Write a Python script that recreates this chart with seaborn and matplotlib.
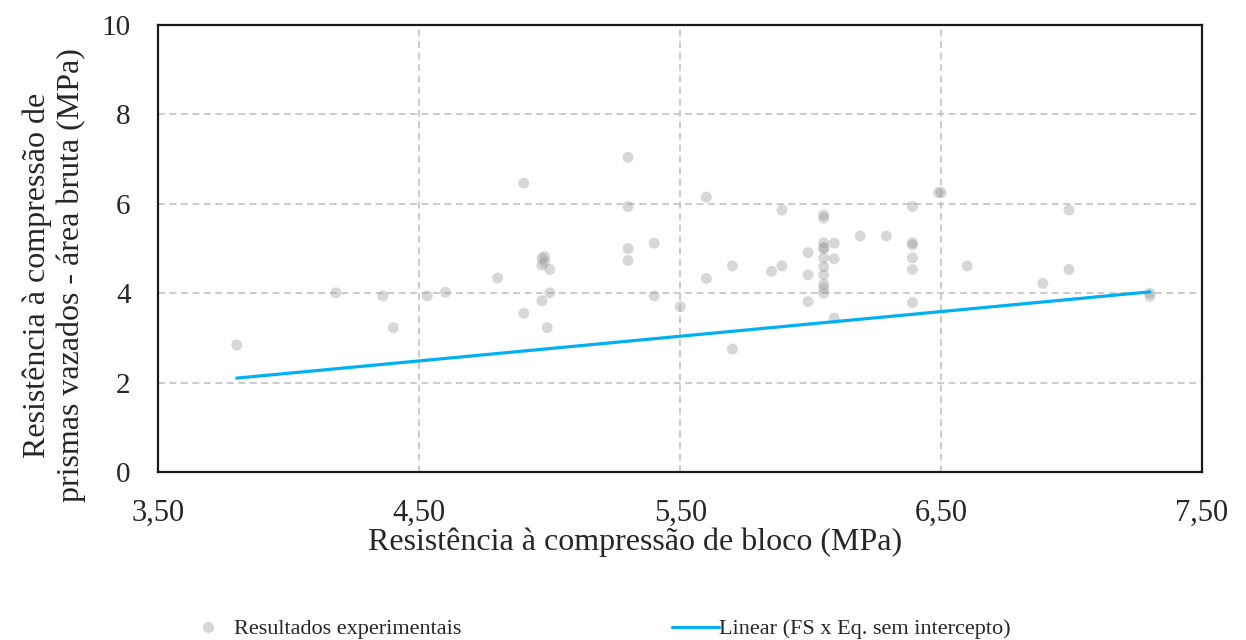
import matplotlib
matplotlib.use("Agg")
import matplotlib.pyplot as plt
import seaborn as sns
import pandas as pd
from matplotlib.lines import Line2D

# ---- data ----
bloco = [3.80, 4.18, 4.36, 4.40, 4.53, 4.60, 4.80, 4.90, 4.90,
         4.97, 4.97, 4.97, 4.99, 4.98, 4.98, 5.00, 5.00,
         5.30, 5.30, 5.30, 5.30, 5.40, 5.40, 5.50, 5.60, 5.60,
         5.70, 5.70, 5.85, 5.89, 5.89, 5.99, 5.99, 5.99,
         6.05, 6.05, 6.05, 6.05, 6.05, 6.05, 6.05, 6.05, 6.05, 6.05, 6.05,
         6.09, 6.09, 6.09, 6.19, 6.29,
         6.39, 6.39, 6.39, 6.39, 6.39, 6.39, 6.49, 6.50,
         6.60, 6.89, 6.99, 6.99, 7.30, 7.30]
prisma = [2.84, 4.01, 3.94, 3.23, 3.94, 4.02, 4.34, 6.46, 3.55,
          4.78, 4.63, 3.83, 3.23, 4.82, 4.70, 4.53, 4.01,
          7.04, 5.94, 5.00, 4.73, 5.12, 3.94, 3.70, 6.15, 4.33,
          4.61, 2.75, 4.49, 5.86, 4.61, 4.91, 4.41, 3.81,
          5.75, 5.68, 5.13, 5.00, 5.02, 4.79, 4.59, 4.41, 4.20, 4.11, 4.00,
          5.12, 4.77, 3.44, 5.28, 5.28,
          5.94, 5.13, 5.08, 4.79, 4.53, 3.79, 6.25, 6.25,
          4.61, 4.22, 5.86, 4.53, 4.00, 3.93]
linha_x = [3.80, 7.30]
linha_y = [2.10, 4.03]

x_ticks = [3.5, 4.5, 5.5, 6.5, 7.5]
x_tick_labels = ["3,50", "4,50", "5,50", "6,50", "7,50"]
y_ticks = [0, 2, 4, 6, 8, 10]

df = pd.DataFrame({"bloco": bloco, "prisma": prisma})
df_line = pd.DataFrame({"x": linha_x, "y": linha_y})

sns.set_style("white")
plt.rcParams["font.family"] = ["Liberation Serif", "DejaVu Serif"]

fig = plt.figure(figsize=(12.46, 6.4), dpi=100)
ax = fig.add_axes([0.1272, 0.2625, 0.8375, 0.6984])

sns.scatterplot(data=df, x="bloco", y="prisma", ax=ax, s=62,
                color="#a0a0a0", alpha=0.42, edgecolor="none", zorder=3)
sns.lineplot(data=df_line, x="x", y="y", ax=ax, color="#00b0f0",
             linewidth=2.3, zorder=4)

ax.set_xlim(3.5, 7.5)
ax.set_ylim(0, 10)
ax.set_xticks(x_ticks)
ax.set_xticklabels(x_tick_labels)
ax.set_yticks(y_ticks)
ax.tick_params(axis="x", labelsize=22, length=0, pad=19)
ax.tick_params(axis="y", labelsize=21, length=0, pad=20)
ax.grid(True, linestyle=(0, (4.5, 3)), color="#bdbdbd", linewidth=1.1)
ax.set_axisbelow(True)
for sp in ax.spines.values():
    sp.set_color("#1a1a1a")
    sp.set_linewidth(1.6)

ax.set_xlabel("Resistência à compressão de bloco (MPa)", fontsize=23)
ax.xaxis.set_label_coords(0.457, -0.125)
ax.set_ylabel("Resistência à compressão de\nprismas vazados - área bruta (MPa)",
              fontsize=23, linespacing=1.2)
ax.yaxis.set_label_coords(-0.069, 0.44)

fs_leg = 16
h1 = Line2D([], [], marker="o", linestyle="none", markersize=8,
            markerfacecolor="#a0a0a0", markeredgecolor="none", alpha=0.42)
h2 = Line2D([], [], color="#00b0f0", linewidth=2.3)
leg1 = fig.legend([h1], ["Resultados experimentais"], loc="center left",
                  bbox_to_anchor=(0.158, 0.017), frameon=False, fontsize=fs_leg,
                  borderpad=0, borderaxespad=0, handlelength=1.0,
                  handletextpad=0.67)
leg2 = fig.legend([h2], ["Linear (FS x Eq. sem intercepto)"], loc="center left",
                  bbox_to_anchor=(0.5393, 0.017), frameon=False, fontsize=fs_leg,
                  borderpad=0, borderaxespad=0, handlelength=2.1,
                  handletextpad=0.0)

fig.savefig("out.png", dpi=100)
